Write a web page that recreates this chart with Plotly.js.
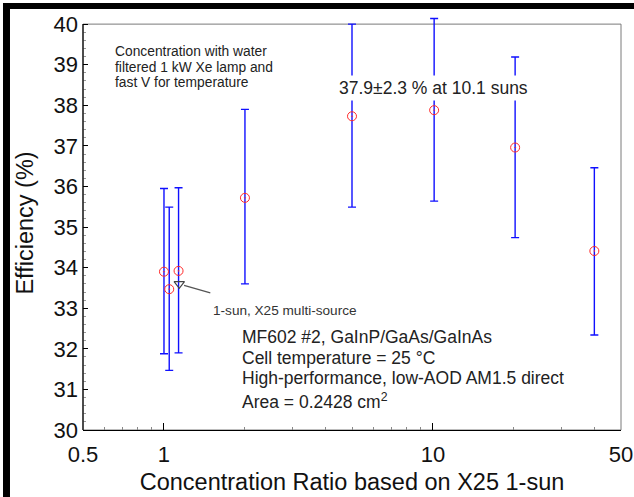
<!DOCTYPE html>
<html>
<head>
<meta charset="utf-8">
<script src="https://cdn.plot.ly/plotly-3.0.1.min.js"></script>
<style>
html,body{margin:0;padding:0;background:#fff;}
#chart{width:634px;height:497px;}
</style>
</head>
<body>
<div id="chart"></div>
<script>
// Data
var concentration = [1.0, 1.046, 1.133, 2.0, 5.0, 10.1, 20.2, 39.8];
var efficiency    = [33.90, 33.47, 33.92, 35.72, 37.73, 37.88, 36.96, 34.41];
var errPlus       = [2.05, 2.02, 2.05, 2.18, 2.27, 2.26, 2.23, 2.05];
var errMinus      = [2.02, 2.00, 2.02, 2.12, 2.24, 2.24, 2.22, 2.07];

var multiSourceX = [1.14];
var multiSourceY = [33.6];

var xTickVals = [0.5, 1, 10, 50];
var xTickText = ['0.5', '1', '10', '50'];
var xMinorVals = [0.6, 0.7, 0.8, 0.9, 2, 3, 4, 5, 6, 7, 8, 9, 20, 30, 40];
var yMinorVals = [];
for (var k = 1; k < 50; k++) { if (k % 5 !== 0) yMinorVals.push(30 + k * 0.2); }

var noteLines = ['Concentration with water', 'filtered 1 kW Xe lamp and', 'fast V for temperature'];
var cellLines = ['MF602 #2, GaInP/GaAs/GaInAs', 'Cell temperature = 25 °C',
                 'High-performance, low-AOD AM1.5 direct', 'Area = 0.2428 cm<sup>2</sup>'];

var FONT = 'Liberation Sans, Arial, sans-serif';
var LX = Math.log10;

var traces = [
  {
    x: concentration, y: efficiency, type: 'scatter', mode: 'markers',
    marker: {symbol: 'circle-open-dot', size: 9, color: '#ff2a2a', line: {width: 1, color: '#ff2a2a'}},
    error_y: {type: 'data', symmetric: false, array: errPlus, arrayminus: errMinus,
              color: '#1010ff', thickness: 1.4, width: 4},
    cliponaxis: false, showlegend: false, hoverinfo: 'x+y'
  },
  {
    x: multiSourceX, y: multiSourceY, type: 'scatter', mode: 'markers',
    marker: {symbol: 'triangle-down-open', size: 9, color: '#444', line: {width: 1.2, color: '#444'}},
    cliponaxis: false, showlegend: false
  }
];

var annotations = [];
var noteY = [39.335, 38.94, 38.57];
noteLines.forEach(function (t, i) {
  annotations.push({xref: 'x', yref: 'y', x: -0.1894, y: noteY[i], xanchor: 'left', yanchor: 'middle',
    text: t, showarrow: false, font: {size: 13.8, family: FONT, color: '#222'}});
});
var cellY = [32.298, 31.781, 31.281, 30.72];
cellLines.forEach(function (t, i) {
  annotations.push({xref: 'x', yref: 'y', x: 0.2826, y: cellY[i], xanchor: 'left', yanchor: 'middle',
    text: t, showarrow: false, font: {size: 17.5, family: FONT, color: '#222'}});
});
annotations.push({xref: 'x', yref: 'y', x: 1.0002, y: 38.43, xanchor: 'center', yanchor: 'middle',
  text: '37.9±2.3 % at 10.1 suns', showarrow: false, bgcolor: '#ffffff', borderpad: 2,
  font: {size: 17.5, family: FONT, color: '#222'}});
annotations.push({xref: 'x', yref: 'y', x: 0.1742, y: 32.955, xanchor: 'left', yanchor: 'middle',
  text: '1-sun, X25 multi-source', showarrow: false, font: {size: 13.6, family: FONT, color: '#333'}});
annotations.push({xref: 'x', yref: 'y', x: LX(multiSourceX[0]), y: multiSourceY[0],
  axref: 'x', ayref: 'y', ax: LX(1.506), ay: 33.37,
  text: '', showarrow: true, arrowhead: 0, arrowwidth: 1.3, arrowcolor: '#555', standoff: 5});

var layout = {
  width: 634, height: 497,
  margin: {l: 83, r: 13, t: 16, b: 67, pad: 0},
  paper_bgcolor: '#ffffff', plot_bgcolor: '#ffffff',
  font: {family: FONT, color: '#111'},
  showlegend: false,
  xaxis: {
    type: 'log', range: [LX(0.5), LX(50)],
    tickmode: 'array', tickvals: xTickVals, ticktext: xTickText,
    ticks: 'inside', ticklen: 7, tickwidth: 1, tickcolor: '#000',
    minor: {tickmode: 'array', tickvals: xMinorVals, ticks: 'inside', ticklen: 3, tickcolor: '#888', tickwidth: 1, showgrid: false},
    showline: true, linecolor: '#000', linewidth: 1.2, mirror: false,
    showgrid: false, zeroline: false,
    tickfont: {size: 22, family: FONT, color: '#111'},
    ticklabelstandoff: 4,
    title: {text: 'Concentration Ratio based on X25 1-sun', font: {size: 23.5, family: FONT, color: '#111'}, standoff: 8}
  },
  yaxis: {
    range: [30, 40.2], tickmode: 'array', tickvals: [30,31,32,33,34,35,36,37,38,39,40],
    ticks: 'inside', ticklen: 5, tickwidth: 1, tickcolor: '#000',
    minor: {tickmode: 'array', tickvals: yMinorVals, ticks: 'inside', ticklen: 3, tickcolor: '#999', tickwidth: 1, showgrid: false},
    showline: false, showgrid: false, zeroline: false,
    tickfont: {size: 22, family: FONT, color: '#111'},
    ticklabelstandoff: 4,
    title: {text: 'Efficiency (%)', font: {size: 23.5, family: FONT, color: '#111'}, standoff: 13}
  },
  shapes: [
    {type: 'rect', xref: 'paper', yref: 'y', x0: 0, x1: 1, y0: 30, y1: 40,
     line: {color: '#7a7a7a', width: 1}, layer: 'below'},
    {type: 'line', xref: 'paper', yref: 'y', x0: 0, x1: 0, y0: 30, y1: 40,
     line: {color: '#000', width: 1.2}},
    {type: 'rect', xref: 'paper', yref: 'paper', x0: -0.1487, x1: 1.05, y0: 1.0169, y1: 1.0314,
     fillcolor: '#000', line: {width: 0}},
    {type: 'rect', xref: 'paper', yref: 'paper', x0: -0.1487, x1: -0.1357, y0: -0.2, y1: 1.0314,
     fillcolor: '#000', line: {width: 0}}
  ],
  annotations: annotations
};

Plotly.newPlot('chart', traces, layout, {displayModeBar: false, staticPlot: true});
</script>
</body>
</html>
